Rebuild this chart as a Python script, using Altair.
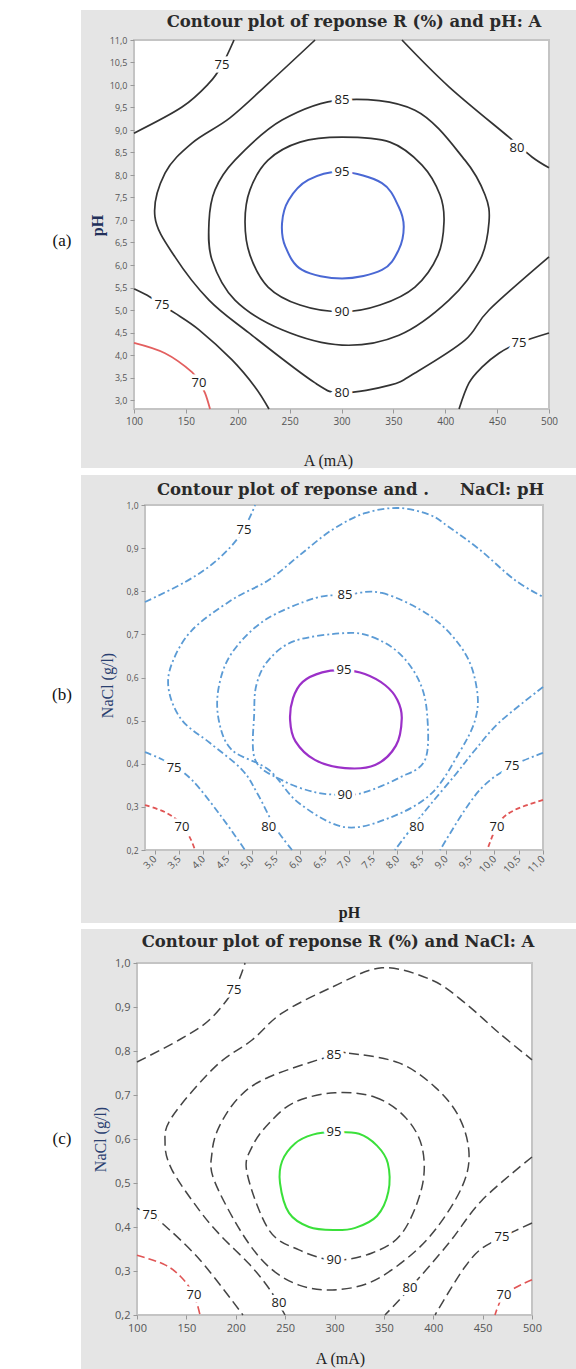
import altair as alt
import pandas as pd

# ---------------- Panel (a): pH vs A ----------------
A_TITLE = "Contour plot of reponse R (%) and pH: A"
A_XTITLE = "A (mA)"
A_YTITLE = "pH"
A_XTICKS = [100, 150, 200, 250, 300, 350, 400, 450, 500]
A_YTICKS = [3.0, 3.5, 4.0, 4.5, 5.0, 5.5, 6.0, 6.5, 7.0, 7.5, 8.0, 8.5, 9.0, 9.5, 10.0, 10.5, 11.0]

A95_X = [300.5, 339, 355, 360, 355, 339, 300.5, 262, 245.9, 242.7, 249, 268]
A95_Y = [8.07, 7.82, 7.30, 6.85, 6.33, 5.89, 5.70, 5.89, 6.41, 6.93, 7.44, 7.89]
A90_X = [300.5, 346.7, 377.6, 394.9, 398.8, 393.0, 370.8, 337.1, 300.5, 260.0, 229.2, 211.8, 207.0, 211.8, 229.2, 260.0]
A90_Y = [8.84, 8.73, 8.22, 7.56, 6.96, 6.22, 5.51, 5.11, 4.96, 5.11, 5.51, 6.22, 6.96, 7.67, 8.33, 8.73]
A85_X = [300.5, 370.8, 419.0, 438.3, 442.2, 433.5, 403.6, 355.4, 300.5, 242.7, 197.3, 175.2, 172.3, 178.1, 197.3, 242.7]
A85_Y = [9.67, 9.44, 8.33, 7.56, 6.96, 6.11, 5.22, 4.44, 4.22, 4.56, 5.22, 6.11, 6.96, 7.67, 8.33, 9.22]
A80_X = [274.5, 231.1, 192.5, 155.9, 129.9, 120.2, 139.5, 172.3, 210.8, 274.5, 300.5, 346.7, 370.8, 419.0, 442.2, 500]
A80_Y = [11.0, 10.07, 9.27, 8.71, 8.04, 7.07, 6.18, 5.22, 4.49, 3.38, 3.16, 3.33, 3.60, 4.33, 5.00, 6.18]
A80B_X = [358.3, 403.6, 461.4, 483.6, 500]
A80B_Y = [11.0, 9.96, 8.84, 8.40, 8.16]
A75A_X = [100, 146.3, 172.3, 184.8, 196.4]
A75A_Y = [8.93, 9.51, 10.04, 10.44, 11.0]
A75B_X = [100, 115.4, 127, 139.5, 162.7, 194.5, 216.6, 230.1]
A75B_Y = [5.47, 5.29, 5.11, 4.93, 4.56, 3.89, 3.29, 2.8]
A75C_X = [413.3, 422.9, 435.4, 451.8, 471.1, 500]
A75C_Y = [2.8, 3.38, 3.73, 4.04, 4.27, 4.49]
A70_X = [100, 129.9, 155.9, 162.7, 168.4, 173.3]
A70_Y = [4.27, 4.04, 3.62, 3.38, 3.16, 2.8]
A_LAB_T = ["75", "85", "80", "95", "90", "75", "80", "75", "70"]
A_LAB_X = [184.8, 300.5, 469.2, 300.5, 300.5, 127, 300.5, 471.1, 162.7]
A_LAB_Y = [10.44, 9.67, 8.6, 8.07, 4.96, 5.11, 3.16, 4.27, 3.38]

# ---------------- Panel (b): NaCl vs pH ----------------
B_TITLE_1 = "Contour plot of reponse and ."
B_TITLE_2 = "NaCl: pH"
B_XTITLE = "pH"
B_YTITLE = "NaCl (g/l)"
B_XTICKS = [3.0, 3.5, 4.0, 4.5, 5.0, 5.5, 6.0, 6.5, 7.0, 7.5, 8.0, 8.5, 9.0, 9.5, 10.0, 10.5, 11.0]
B_YTICKS = [0.2, 0.3, 0.4, 0.5, 0.6, 0.7, 0.8, 0.9, 1.0]

B95_X = [6.90, 7.33, 7.75, 8.00, 8.09, 7.97, 7.54, 6.92, 6.30, 5.90, 5.79, 5.85, 6.05, 6.45]
B95_Y = [0.617, 0.608, 0.582, 0.548, 0.505, 0.442, 0.397, 0.390, 0.409, 0.452, 0.501, 0.552, 0.590, 0.612]
B90_X = [6.92, 7.48, 8.03, 8.44, 8.61, 8.57, 8.03, 7.33, 6.92, 6.30, 5.62, 5.07, 5.05, 5.10, 5.35, 5.89]
B90_Y = [0.703, 0.694, 0.657, 0.594, 0.518, 0.409, 0.367, 0.334, 0.328, 0.334, 0.362, 0.409, 0.518, 0.585, 0.641, 0.685]
B85_X = [6.92, 7.68, 8.71, 9.39, 9.64, 9.60, 9.27, 8.71, 7.89, 6.92, 5.97, 5.35, 4.59, 4.32, 4.32, 4.59, 5.27, 6.30]
B85_Y = [0.791, 0.796, 0.740, 0.657, 0.571, 0.501, 0.425, 0.332, 0.277, 0.253, 0.309, 0.386, 0.432, 0.501, 0.578, 0.657, 0.733, 0.784]
B80_X = [5.83, 5.48, 5.13, 4.80, 4.14, 3.56, 3.29, 3.36, 3.77, 4.59, 5.35, 5.99, 6.65, 7.33, 8.03, 8.67, 9.06, 9.70, 10.42, 11.0]
B80_Y = [0.200, 0.253, 0.328, 0.386, 0.448, 0.501, 0.571, 0.634, 0.710, 0.780, 0.826, 0.884, 0.942, 0.981, 0.993, 0.977, 0.949, 0.896, 0.826, 0.787]
B80B_X = [11.0, 10.11, 9.60, 9.19, 8.67, 8.26, 7.95]
B80B_Y = [0.578, 0.497, 0.432, 0.374, 0.304, 0.246, 0.200]
B75A_X = [2.8, 3.62, 4.24, 4.76, 5.07]
B75A_Y = [0.775, 0.821, 0.868, 0.930, 1.0]
B75B_X = [2.8, 3.29, 3.77, 4.35, 4.86]
B75B_Y = [0.427, 0.402, 0.362, 0.281, 0.200]
B75C_X = [11.0, 10.36, 9.80, 9.39, 8.88]
B75C_Y = [0.425, 0.395, 0.351, 0.293, 0.200]
B70A_X = [2.8, 3.21, 3.52, 3.72, 3.83]
B70A_Y = [0.304, 0.288, 0.263, 0.230, 0.200]
B70B_X = [11.0, 10.42, 10.09, 9.85]
B70B_Y = [0.316, 0.293, 0.263, 0.200]
B_LAB_T = ["75", "85", "95", "90", "75", "70", "80", "80", "70", "75"]
B_LAB_X = [4.84, 6.92, 6.90, 6.92, 3.40, 3.56, 5.35, 8.40, 10.05, 10.36]
B_LAB_Y = [0.942, 0.791, 0.617, 0.328, 0.390, 0.253, 0.253, 0.253, 0.253, 0.395]

# ---------------- Panel (c): NaCl vs A ----------------
C_TITLE = "Contour plot of reponse R (%) and NaCl: A"
C_XTITLE = "A (mA)"
C_YTITLE = "NaCl (g/l)"
C_XTICKS = [100, 150, 200, 250, 300, 350, 400, 450, 500]
C_YTICKS = [0.2, 0.3, 0.4, 0.5, 0.6, 0.7, 0.8, 0.9, 1.0]

C95_X = [299.5, 324.8, 343.0, 354.0, 354.5, 343.0, 321.0, 299.5, 274.2, 253.9, 244.8, 247.0, 260.0, 278.0]
C95_Y = [0.616, 0.612, 0.585, 0.545, 0.480, 0.425, 0.398, 0.393, 0.400, 0.432, 0.500, 0.550, 0.590, 0.610]
C90_X = [300.5, 341.0, 371.4, 388.6, 388.6, 368.4, 338.0, 299.5, 264.1, 233.7, 211.4, 216.5, 233.7, 260.0]
C90_Y = [0.705, 0.695, 0.650, 0.582, 0.491, 0.386, 0.341, 0.325, 0.348, 0.393, 0.523, 0.582, 0.636, 0.684]
C85_X = [299.5, 314.7, 365.3, 401.8, 426.1, 436.2, 429.1, 401.8, 371.4, 334.9, 297.5, 264.1, 233.7, 206.3, 178.0, 175.9, 183.0, 203.3, 233.7]
C85_Y = [0.791, 0.795, 0.773, 0.718, 0.650, 0.568, 0.491, 0.393, 0.325, 0.273, 0.257, 0.268, 0.309, 0.386, 0.507, 0.568, 0.627, 0.695, 0.741]
C80_X = [249.9, 234.7, 214.4, 184.1, 162.8, 135.4, 128.4, 135.4, 179.0, 216.5, 246.8, 297.5, 348.1, 398.7, 432.2, 466.6, 500]
C80_Y = [0.2, 0.257, 0.314, 0.382, 0.439, 0.530, 0.591, 0.650, 0.764, 0.825, 0.886, 0.945, 0.989, 0.961, 0.909, 0.841, 0.78]
C80B_X = [500, 449.4, 416.0, 376.5, 351.1]
C80B_Y = [0.559, 0.461, 0.364, 0.261, 0.2]
C75A_X = [100, 142.5, 172.9, 198.2, 209.4]
C75A_Y = [0.775, 0.825, 0.870, 0.939, 1.0]
C75B_X = [100, 113.2, 125.3, 163.8, 207.3]
C75B_Y = [0.443, 0.427, 0.409, 0.325, 0.2]
C75C_X = [500, 469.6, 447.3, 432.0, 417.0, 401.8]
C75C_Y = [0.409, 0.377, 0.348, 0.309, 0.257, 0.2]
C70A_X = [100, 128.4, 145.6, 157.7, 163.8]
C70A_Y = [0.336, 0.314, 0.284, 0.245, 0.2]
C70B_X = [500, 483, 470, 462.5]
C70B_Y = [0.28, 0.262, 0.24, 0.2]
C_LAB_T = ["75", "85", "95", "90", "75", "70", "80", "80", "75", "70"]
C_LAB_X = [198.2, 299.5, 299.5, 299.5, 113.2, 157.7, 243.8, 376.5, 469.6, 471.6]
C_LAB_Y = [0.939, 0.791, 0.616, 0.325, 0.427, 0.245, 0.227, 0.261, 0.377, 0.245]

GRAY = "#e5e5e5"
SERIF = "DejaVu Serif"
SANS = "Open Sans"
COMMA = "replace(format(datum.value, '.1f'), '.', ',')"


def seg_df(segs):
    rows = []
    for sid, (lvl, closed, xs, ys) in enumerate(segs):
        for i, (x, y) in enumerate(zip(xs, ys)):
            rows.append({"seg": sid, "level": lvl, "closed": closed, "i": i, "x": x, "y": y})
    return pd.DataFrame(rows)


def build_panel(g):
    one = pd.DataFrame({"k": [0]})
    xenc = alt.X("x:Q", scale=alt.Scale(domain=g["xdom"], range=g["xr"], nice=False, zero=False), axis=g["xaxis"])
    yenc = alt.Y("y:Q", scale=alt.Scale(domain=g["ydom"], range=g["yr"], nice=False, zero=False), axis=g["yaxis"])

    layers = []
    layers.append(alt.Chart(one).mark_rect(fill=GRAY).encode(
        x=alt.value(81), x2=alt.value(576), y=alt.value(g["gray"][0]), y2=alt.value(g["gray"][1])))
    layers.append(alt.Chart(one).mark_rect(fill="white", stroke="#c4c4c4", strokeWidth=2).encode(
        x=alt.value(g["xr"][0]), x2=alt.value(g["xr"][1]), y=alt.value(g["yr"][1]), y2=alt.value(g["yr"][0])))

    df = seg_df(g["segs"])
    for key, (col, dash, w) in g["styles"].items():
        levels = g["style_levels"][key]
        for closed in (True, False):
            sub = df[(df["level"].isin(levels)) & (df["closed"] == closed)]
            if len(sub) == 0:
                continue
            kw = dict(color=col, strokeWidth=w, interpolate="cardinal-closed" if closed else "cardinal",
                      clip=True)
            if dash:
                kw["strokeDash"] = dash
            layers.append(alt.Chart(sub).mark_line(**kw).encode(
                x=xenc, y=yenc, detail="seg:N", order=alt.Order("i:Q")))

    lab = pd.DataFrame({"x": g["lab"][0], "y": g["lab"][1], "t": g["lab"][2]})
    layers.append(alt.Chart(lab).mark_text(font=SANS, fontSize=13, fill="white", stroke="white",
                                           strokeWidth=7, baseline="middle").encode(x=xenc, y=yenc, text="t:N"))
    layers.append(alt.Chart(lab).mark_text(font=SANS, fontSize=13, color="#1a1a1a", baseline="middle").encode(
        x=xenc, y=yenc, text="t:N"))

    for (txt, tx, ty) in g["titles"]:
        tdf = pd.DataFrame({"t": [txt]})
        layers.append(alt.Chart(tdf).mark_text(font=SERIF, fontSize=16.5, fontWeight="bold", color="#2a2a2a",
                                               baseline="middle", align="center").encode(
            x=alt.value(tx), y=alt.value(ty), text="t:N"))
    ldf = pd.DataFrame({"t": [g["letter"]]})
    layers.append(alt.Chart(ldf).mark_text(font="Liberation Serif", fontSize=17, color="#111",
                                           baseline="middle", align="center").encode(
        x=alt.value(g["letter_xy"][0]), y=alt.value(g["letter_xy"][1]), text="t:N"))

    return alt.layer(*layers).properties(width=576, height=g["h"])


def ax(values, title, offset, tx, ty, fs, lexpr=None, angle=None, lalign=None, lbase=None, tfw="normal",
       tcol="#222", tfs=16, lcol="#555"):
    kw = dict(values=values, title=title, offset=offset, domain=False, grid=False, ticks=True, tickSize=4,
              tickColor="#999", labelColor=lcol, labelFont=SANS, labelFontSize=fs, labelPadding=3,
              titleFont="Liberation Serif", titleFontSize=tfs, titleFontWeight=tfw, titleColor=tcol,
              titleX=tx, titleY=ty, titleAlign="center", titleBaseline="middle", zindex=1,
              labelFlush=False, labelOverlap=False)
    if lexpr:
        kw["labelExpr"] = lexpr
    else:
        kw["format"] = "d"
    if angle is not None:
        kw["labelAngle"] = angle
    if lalign:
        kw["labelAlign"] = lalign
    if lbase:
        kw["labelBaseline"] = lbase
    return alt.Axis(**kw)


pa = dict(
    h=471, gray=(10, 468), xdom=[100, 500], ydom=[2.8, 11.0], xr=[134, 549], yr=[409, 40],
    xaxis=ax(A_XTICKS, A_XTITLE, -62, 328, 51, 10),
    yaxis=ax(A_YTICKS, A_YTITLE, -134, -37, 225, 9, lexpr=COMMA, tfw="bold", tcol="#22305a"),
    segs=[(95, True, A95_X, A95_Y), (90, True, A90_X, A90_Y), (85, True, A85_X, A85_Y),
          (80, False, A80_X, A80_Y), (80, False, A80B_X, A80B_Y), (75, False, A75A_X, A75A_Y),
          (75, False, A75B_X, A75B_Y), (75, False, A75C_X, A75C_Y), (70, False, A70_X, A70_Y)],
    styles={"main": ("#333333", None, 1.7), "top": ("#4a68d4", None, 2.0), "low": ("#e35f5f", None, 1.8)},
    lab=(A_LAB_X, A_LAB_Y, A_LAB_T),
    titles=[(A_TITLE, 354, 22)], letter="(a)", letter_xy=(62, 241),
)
pb = dict(
    h=455, gray=(4, 452), xdom=[2.8, 11.0], ydom=[0.2, 1.0], xr=[145, 543], yr=[379, 34],
    xaxis=ax(B_XTICKS, B_XTITLE, -76, 349, 62, 10, lexpr=COMMA, angle=315, lalign="right", lbase="middle",
             tfw="bold"),
    yaxis=ax(B_YTICKS, B_YTITLE, -145, -38, 214, 8.5, lexpr=COMMA, tcol="#2a4070"),
    segs=[(95, True, B95_X, B95_Y), (90, True, B90_X, B90_Y), (85, True, B85_X, B85_Y),
          (80, False, B80_X, B80_Y), (80, False, B80B_X, B80B_Y), (75, False, B75A_X, B75A_Y),
          (75, False, B75B_X, B75B_Y), (75, False, B75C_X, B75C_Y), (70, False, B70A_X, B70A_Y),
          (70, False, B70B_X, B70B_Y)],
    styles={"main": ("#5b9bd5", [7, 3, 2, 3], 1.8), "top": ("#9b30c8", None, 2.2),
            "low": ("#e05555", [5, 3], 1.8)},
    lab=(B_LAB_X, B_LAB_Y, B_LAB_T),
    titles=[(B_TITLE_1, 293, 19), (B_TITLE_2, 502, 19)], letter="(b)", letter_xy=(62, 224),
)
pc = dict(
    h=443, gray=(3, 443), xdom=[100, 500], ydom=[0.2, 1.0], xr=[137, 532], yr=[389, 37],
    xaxis=ax(C_XTICKS, C_XTITLE, -54, 340, 43, 11),
    yaxis=ax(C_YTICKS, C_YTITLE, -137, -37, 213, 11, lexpr=COMMA, tcol="#2a4070"),
    segs=[(95, True, C95_X, C95_Y), (90, True, C90_X, C90_Y), (85, True, C85_X, C85_Y),
          (80, False, C80_X, C80_Y), (80, False, C80B_X, C80B_Y), (75, False, C75A_X, C75A_Y),
          (75, False, C75B_X, C75B_Y), (75, False, C75C_X, C75C_Y), (70, False, C70A_X, C70A_Y),
          (70, False, C70B_X, C70B_Y)],
    styles={"main": ("#444444", [10, 5], 1.5), "top": ("#3ae03a", None, 2.0), "low": ("#e05555", [8, 4], 1.6)},
    lab=(C_LAB_X, C_LAB_Y, C_LAB_T),
    titles=[(C_TITLE, 338, 16)], letter="(c)", letter_xy=(62, 213),
)
for p in (pa, pb, pc):
    p["style_levels"] = {"main": [75, 80, 85, 90], "top": [95], "low": [70]}

chart = alt.vconcat(build_panel(pa), build_panel(pb), build_panel(pc), spacing=0, bounds="flush").properties(
    padding=0, background="white"
).configure_view(stroke=None)

chart.save("out.html", embed_options={"renderer": "svg", "actions": False})
